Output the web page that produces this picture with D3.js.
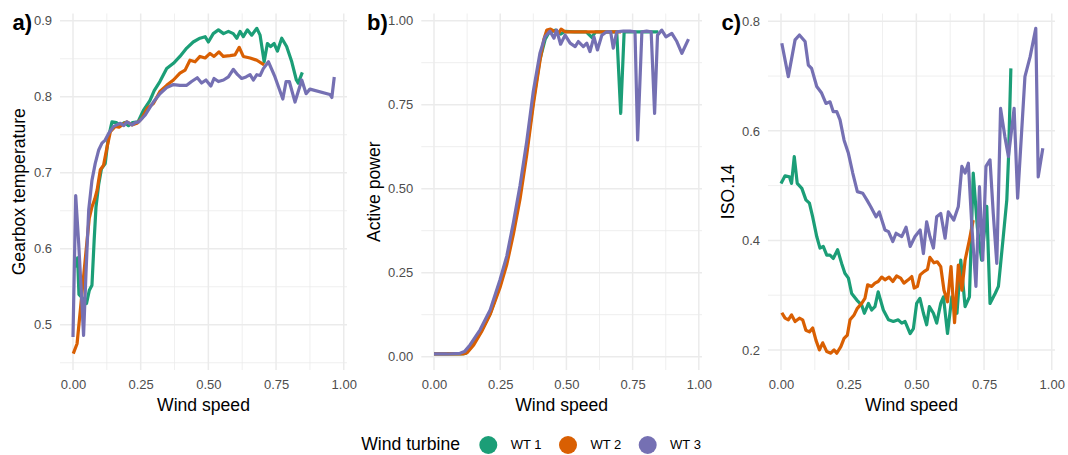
<!DOCTYPE html>
<html>
<head>
<meta charset="utf-8">
<script src="https://cdn.jsdelivr.net/npm/d3@7"></script>
<style>
  body { margin: 0; background: #fff; }
  svg { display: block; font-family: "Liberation Sans", Arial, sans-serif; }
</style>
</head>
<body>
<svg id="chart" width="1068" height="455"></svg>
<script>
// legend / series names
const turbines = ["WT 1", "WT 2", "WT 3"];
const turbineColors = ["#1B9E77", "#D95F02", "#7570B3"];

// tick values
const xTicks = [0, 0.25, 0.5, 0.75, 1];
const xMinor = [0.125, 0.375, 0.625, 0.875];
const gearboxTicks = [0.5, 0.6, 0.7, 0.8, 0.9];
const gearboxMinor = [0.45, 0.55, 0.65, 0.75, 0.85];
const powerTicks = [0, 0.25, 0.5, 0.75, 1];
const powerMinor = [0.125, 0.375, 0.625, 0.875];
const isoTicks = [0.2, 0.4, 0.6, 0.8];
const isoMinor = [0.3, 0.5, 0.7];

// a) gearbox temperature vs wind speed  [wind speed, value]
const gearboxWT1 = [[0.010,0.575],[0.017,0.588],[0.022,0.540],[0.035,0.535],[0.050,0.528],[0.060,0.545],[0.070,0.552],[0.078,0.610],[0.085,0.655],[0.095,0.685],[0.105,0.705],[0.119,0.712],[0.130,0.745],[0.144,0.767],[0.160,0.766],[0.175,0.762],[0.190,0.766],[0.205,0.762],[0.220,0.766],[0.240,0.767],[0.260,0.782],[0.284,0.795],[0.300,0.808],[0.321,0.820],[0.346,0.837],[0.371,0.844],[0.395,0.853],[0.420,0.864],[0.444,0.872],[0.469,0.877],[0.488,0.879],[0.500,0.872],[0.518,0.883],[0.537,0.888],[0.556,0.883],[0.574,0.886],[0.592,0.883],[0.605,0.877],[0.617,0.886],[0.629,0.879],[0.644,0.888],[0.660,0.881],[0.679,0.890],[0.691,0.881],[0.706,0.846],[0.718,0.870],[0.730,0.866],[0.743,0.870],[0.755,0.860],[0.771,0.877],[0.789,0.866],[0.808,0.846],[0.825,0.822],[0.832,0.818],[0.847,0.832]];
const gearboxWT2 = [[0.001,0.462],[0.015,0.475],[0.027,0.519],[0.039,0.563],[0.052,0.611],[0.060,0.640],[0.070,0.655],[0.080,0.665],[0.089,0.677],[0.101,0.704],[0.113,0.710],[0.126,0.734],[0.138,0.754],[0.156,0.761],[0.170,0.760],[0.181,0.763],[0.199,0.767],[0.218,0.763],[0.236,0.765],[0.255,0.772],[0.275,0.785],[0.297,0.791],[0.321,0.807],[0.346,0.815],[0.371,0.822],[0.395,0.831],[0.414,0.835],[0.432,0.848],[0.451,0.846],[0.469,0.853],[0.488,0.851],[0.506,0.857],[0.521,0.853],[0.539,0.859],[0.555,0.853],[0.580,0.854],[0.598,0.855],[0.614,0.865],[0.629,0.853],[0.654,0.851],[0.679,0.848],[0.706,0.842]];
const gearboxWT3 = [[0.000,0.484],[0.010,0.670],[0.021,0.607],[0.033,0.528],[0.039,0.486],[0.048,0.568],[0.058,0.651],[0.070,0.690],[0.082,0.712],[0.095,0.730],[0.107,0.739],[0.119,0.743],[0.132,0.752],[0.150,0.761],[0.162,0.763],[0.175,0.765],[0.188,0.762],[0.199,0.767],[0.218,0.763],[0.230,0.766],[0.243,0.767],[0.267,0.776],[0.286,0.787],[0.297,0.793],[0.321,0.804],[0.346,0.812],[0.371,0.816],[0.395,0.815],[0.420,0.815],[0.438,0.820],[0.459,0.825],[0.475,0.818],[0.491,0.822],[0.509,0.814],[0.521,0.824],[0.537,0.820],[0.556,0.822],[0.574,0.826],[0.592,0.836],[0.608,0.829],[0.623,0.824],[0.639,0.826],[0.654,0.829],[0.666,0.822],[0.679,0.829],[0.691,0.828],[0.703,0.837],[0.722,0.846],[0.746,0.826],[0.775,0.797],[0.787,0.820],[0.799,0.820],[0.820,0.793],[0.845,0.822],[0.861,0.804],[0.875,0.810],[0.949,0.803],[0.956,0.799],[0.965,0.826]];

// b) active power vs wind speed
const powerWT1 = [[0.000,0.008],[0.050,0.008],[0.100,0.008],[0.120,0.010],[0.136,0.025],[0.174,0.070],[0.212,0.128],[0.249,0.212],[0.275,0.285],[0.300,0.380],[0.325,0.490],[0.350,0.615],[0.375,0.760],[0.400,0.885],[0.420,0.945],[0.432,0.962],[0.445,0.968],[0.460,0.972],[0.478,0.960],[0.495,0.968],[0.530,0.967],[0.575,0.967],[0.596,0.950],[0.610,0.967],[0.690,0.967],[0.705,0.724],[0.718,0.967],[0.780,0.967],[0.847,0.967]];
const powerWT2 = [[0.000,0.008],[0.070,0.008],[0.110,0.008],[0.125,0.012],[0.150,0.035],[0.180,0.075],[0.212,0.126],[0.249,0.205],[0.275,0.275],[0.300,0.365],[0.325,0.470],[0.350,0.600],[0.375,0.750],[0.400,0.880],[0.415,0.945],[0.426,0.972],[0.440,0.975],[0.455,0.968],[0.470,0.962],[0.480,0.975],[0.495,0.967],[0.600,0.967],[0.706,0.967]];
const powerWT3 = [[0.000,0.008],[0.050,0.008],[0.098,0.010],[0.115,0.015],[0.136,0.035],[0.174,0.080],[0.212,0.139],[0.249,0.228],[0.275,0.300],[0.300,0.400],[0.325,0.510],[0.350,0.640],[0.375,0.790],[0.400,0.903],[0.419,0.952],[0.438,0.969],[0.453,0.948],[0.463,0.972],[0.478,0.930],[0.495,0.957],[0.514,0.933],[0.533,0.923],[0.545,0.938],[0.564,0.923],[0.577,0.933],[0.589,0.908],[0.604,0.952],[0.617,0.913],[0.634,0.957],[0.652,0.967],[0.667,0.967],[0.677,0.918],[0.690,0.967],[0.715,0.969],[0.740,0.969],[0.759,0.967],[0.769,0.645],[0.785,0.967],[0.803,0.969],[0.820,0.967],[0.833,0.724],[0.844,0.957],[0.860,0.972],[0.876,0.952],[0.898,0.962],[0.917,0.938],[0.936,0.903],[0.961,0.945]];

// c) ISO.14 vs wind speed
const isoWT1 = [[0.000,0.504],[0.015,0.518],[0.031,0.516],[0.039,0.504],[0.049,0.553],[0.060,0.504],[0.077,0.495],[0.092,0.474],[0.105,0.468],[0.117,0.443],[0.132,0.407],[0.144,0.386],[0.156,0.389],[0.169,0.373],[0.181,0.373],[0.193,0.367],[0.209,0.383],[0.224,0.358],[0.236,0.340],[0.249,0.331],[0.261,0.303],[0.280,0.291],[0.298,0.282],[0.308,0.267],[0.323,0.285],[0.335,0.273],[0.347,0.279],[0.359,0.306],[0.378,0.273],[0.397,0.255],[0.415,0.252],[0.433,0.255],[0.446,0.249],[0.458,0.252],[0.477,0.230],[0.489,0.239],[0.501,0.285],[0.513,0.294],[0.526,0.267],[0.538,0.246],[0.548,0.279],[0.563,0.267],[0.575,0.249],[0.590,0.285],[0.600,0.297],[0.615,0.230],[0.631,0.297],[0.650,0.267],[0.664,0.364],[0.680,0.279],[0.696,0.297],[0.710,0.523],[0.725,0.425],[0.741,0.364],[0.753,0.425],[0.760,0.462],[0.772,0.285],[0.791,0.303],[0.803,0.316],[0.821,0.407],[0.834,0.474],[0.840,0.547],[0.849,0.714]];
const isoWT2 = [[0.003,0.268],[0.015,0.258],[0.027,0.255],[0.039,0.264],[0.052,0.252],[0.068,0.258],[0.080,0.255],[0.092,0.236],[0.105,0.233],[0.117,0.240],[0.129,0.218],[0.142,0.200],[0.154,0.213],[0.169,0.197],[0.184,0.194],[0.196,0.200],[0.206,0.194],[0.221,0.206],[0.233,0.221],[0.245,0.227],[0.255,0.255],[0.270,0.264],[0.282,0.276],[0.298,0.285],[0.310,0.294],[0.320,0.319],[0.335,0.316],[0.347,0.322],[0.359,0.325],[0.372,0.333],[0.384,0.328],[0.399,0.333],[0.413,0.325],[0.427,0.335],[0.442,0.331],[0.454,0.322],[0.470,0.328],[0.483,0.334],[0.492,0.313],[0.504,0.316],[0.514,0.337],[0.528,0.343],[0.541,0.347],[0.550,0.369],[0.565,0.359],[0.577,0.361],[0.590,0.352],[0.602,0.309],[0.615,0.288],[0.628,0.352],[0.641,0.250],[0.655,0.355],[0.668,0.309],[0.680,0.364],[0.696,0.401],[0.710,0.437]];
const isoWT3 = [[0.003,0.760],[0.027,0.699],[0.052,0.766],[0.068,0.775],[0.089,0.763],[0.101,0.720],[0.113,0.714],[0.132,0.681],[0.150,0.669],[0.166,0.650],[0.181,0.653],[0.193,0.635],[0.206,0.635],[0.218,0.620],[0.233,0.583],[0.249,0.559],[0.265,0.523],[0.282,0.489],[0.302,0.486],[0.317,0.474],[0.331,0.462],[0.351,0.443],[0.363,0.452],[0.384,0.419],[0.397,0.416],[0.413,0.398],[0.425,0.413],[0.446,0.407],[0.462,0.424],[0.477,0.389],[0.495,0.407],[0.514,0.419],[0.526,0.376],[0.538,0.434],[0.550,0.407],[0.563,0.386],[0.575,0.443],[0.590,0.449],[0.606,0.404],[0.618,0.452],[0.638,0.437],[0.655,0.462],[0.668,0.535],[0.680,0.523],[0.692,0.541],[0.705,0.425],[0.720,0.316],[0.733,0.498],[0.745,0.364],[0.757,0.535],[0.772,0.547],[0.784,0.449],[0.797,0.358],[0.811,0.641],[0.827,0.589],[0.840,0.553],[0.861,0.641],[0.874,0.477],[0.901,0.699],[0.920,0.735],[0.941,0.787],[0.950,0.516],[0.967,0.568]];

const svg = d3.select("#chart");
const plotTop = 13.5, plotBottom = 370;
const gridCol = "#EBEBEB";

const panels = [
  { tag: "a)", tagX: 12.5, title: "Gearbox temperature", titleX: 24.8,
    left: 60, right: 347, yDomain: [0.4405, 0.9095], yTicks: gearboxTicks, yMinor: gearboxMinor, yFmt: ".1f",
    series: [gearboxWT1, gearboxWT2, gearboxWT3] },
  { tag: "b)", tagX: 367, title: "Active power", titleX: 379.8,
    left: 421.3, right: 702, yDomain: [-0.0397, 1.0214], yTicks: powerTicks, yMinor: powerMinor, yFmt: ".2f",
    series: [powerWT1, powerWT2, powerWT3] },
  { tag: "c)", tagX: 721.5, title: "ISO.14", titleX: 734.3,
    left: 768, right: 1055, yDomain: [0.1634, 0.8142], yTicks: isoTicks, yMinor: isoMinor, yFmt: ".1f",
    series: [isoWT1, isoWT2, isoWT3] }
];

function drawPanel(p) {
  const x = d3.scaleLinear().domain([-0.048, 1.012]).range([p.left, p.right]);
  const y = d3.scaleLinear().domain(p.yDomain).range([plotBottom, plotTop]);
  const g = svg.append("g");

  // grid, minor first
  g.selectAll(".xminor").data(xMinor).enter().append("line")
    .attr("x1", d => x(d)).attr("x2", d => x(d))
    .attr("y1", plotTop).attr("y2", plotBottom)
    .attr("stroke", gridCol).attr("stroke-width", 0.8);
  g.selectAll(".yminor").data(p.yMinor).enter().append("line")
    .attr("x1", p.left).attr("x2", p.right)
    .attr("y1", d => y(d)).attr("y2", d => y(d))
    .attr("stroke", gridCol).attr("stroke-width", 0.8);
  g.selectAll(".xmajor").data(xTicks).enter().append("line")
    .attr("x1", d => x(d)).attr("x2", d => x(d))
    .attr("y1", plotTop).attr("y2", plotBottom)
    .attr("stroke", gridCol).attr("stroke-width", 1.5);
  g.selectAll(".ymajor").data(p.yTicks).enter().append("line")
    .attr("x1", p.left).attr("x2", p.right)
    .attr("y1", d => y(d)).attr("y2", d => y(d))
    .attr("stroke", gridCol).attr("stroke-width", 1.5);

  // axes (labels only)
  const ax = g.append("g")
    .attr("transform", "translate(0," + plotBottom + ")")
    .call(d3.axisBottom(x).tickValues(xTicks).tickFormat(d3.format(".2f")).tickSize(0).tickPadding(10));
  const ay = g.append("g")
    .attr("transform", "translate(" + p.left + ",0)")
    .call(d3.axisLeft(y).tickValues(p.yTicks).tickFormat(d3.format(p.yFmt)).tickSize(0).tickPadding(8));
  [ax, ay].forEach(a => {
    a.select(".domain").remove();
    a.attr("font-size", 13).attr("font-family", null).attr("color", "#4D4D4D");
  });

  // lines
  const line = d3.line().x(d => x(d[0])).y(d => y(d[1]));
  g.append("g").selectAll("path")
    .data(p.series)
    .enter()
    .append("path")
    .attr("d", line)
    .attr("fill", "none")
    .attr("stroke", (d, i) => turbineColors[i])
    .attr("stroke-width", 3.2)
    .attr("stroke-linejoin", "round");

  // titles
  g.append("text")
    .attr("x", (p.left + p.right) / 2).attr("y", 411)
    .attr("text-anchor", "middle").attr("font-size", 17.6).attr("fill", "#000")
    .text("Wind speed");
  g.append("text")
    .attr("transform", "translate(" + p.titleX + "," + ((plotTop + plotBottom) / 2) + ") rotate(-90)")
    .attr("text-anchor", "middle").attr("font-size", 17.6).attr("fill", "#000")
    .text(p.title);
  g.append("text")
    .attr("x", p.tagX).attr("y", 29.5)
    .attr("font-size", 22).attr("font-weight", "bold").attr("fill", "#000")
    .text(p.tag);
}

panels.forEach(drawPanel);

// legend
const legend = svg.append("g");
legend.append("text")
  .attr("x", 460).attr("y", 450)
  .attr("text-anchor", "end").attr("font-size", 17.6).attr("fill", "#000")
  .text("Wind turbine");
const items = legend.selectAll(".item").data(turbines).enter().append("g")
  .attr("transform", (d, i) => "translate(" + (488.3 + i * 79.7) + ",445)");
items.append("circle").attr("r", 9).attr("fill", (d, i) => turbineColors[i]);
items.append("text")
  .attr("x", 22.4).attr("y", 4.4)
  .attr("font-size", 13).attr("fill", "#000")
  .text(d => d);
</script>
</body>
</html>
